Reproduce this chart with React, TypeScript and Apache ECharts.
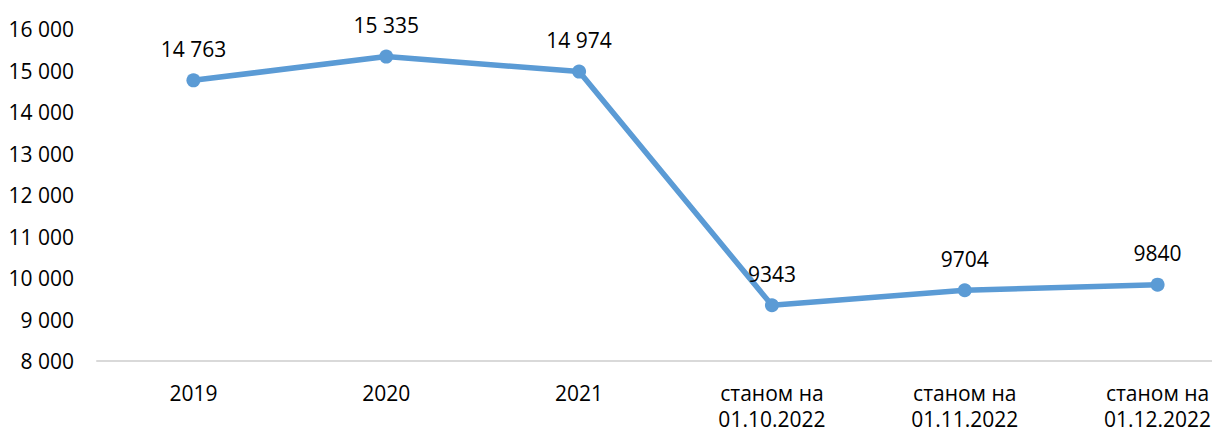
import React, { useEffect, useRef } from "react";
import * as echarts from "echarts";

const categories = ["2019", "2020", "2021", "станом на\n01.10.2022", "станом на\n01.11.2022", "станом на\n01.12.2022"];
const values = [14763, 15335, 14974, 9343, 9704, 9840];
const dataLabels = ["14 763", "15 335", "14 974", "9343", "9704", "9840"];
const yMin = 8000;
const yMax = 16000;
const yStep = 1000;

const FONT = "'Open Sans', 'Noto Sans', sans-serif";

export default function App() {
  const ref = useRef<HTMLDivElement>(null);
  useEffect(() => {
    if (!ref.current) return;
    const chart = echarts.init(ref.current, undefined, { renderer: "svg" });
    chart.setOption({
      animation: false,
      backgroundColor: "#fff",
      grid: { left: 97, top: 29, right: 0, bottom: 69, containLabel: false },
      xAxis: {
        type: "category",
        data: categories,
        boundaryGap: true,
        axisLine: { show: true, lineStyle: { color: "#D9D9D9", width: 2 } },
        axisTick: { show: false },
        axisLabel: {
          color: "#000",
          fontFamily: FONT,
          fontSize: 21,
          lineHeight: 26,
          margin: 19,
          interval: 0,
        },
      },
      yAxis: {
        type: "value",
        min: yMin,
        max: yMax,
        interval: yStep,
        splitLine: { show: false },
        axisLine: { show: false },
        axisTick: { show: false },
        axisLabel: {
          color: "#000",
          fontFamily: FONT,
          fontSize: 21,
          margin: 23,
          formatter: (v: number) => {
            const s = String(v);
            return s.length > 3 ? s.slice(0, s.length - 3) + " " + s.slice(-3) : s;
          },
        },
      },
      series: [
        {
          type: "line",
          data: values,
          symbol: "circle",
          symbolSize: 14,
          lineStyle: { color: "#5B9BD5", width: 5.5 },
          itemStyle: { color: "#5B9BD5" },
          label: {
            show: true,
            position: "top",
            distance: 14,
            color: "#000",
            fontFamily: FONT,
            fontSize: 21,
            formatter: (p: any) => dataLabels[p.dataIndex],
          },
        },
      ],
    });
    return () => chart.dispose();
  }, []);
  return (
    <div style={{ position: "fixed", left: 0, top: 0, width: 1212, height: 432, overflow: "hidden", background: "#fff" }}>
      <div ref={ref} style={{ position: "absolute", left: 0, top: 0, width: 1254, height: 432 }} />
    </div>
  );
}
